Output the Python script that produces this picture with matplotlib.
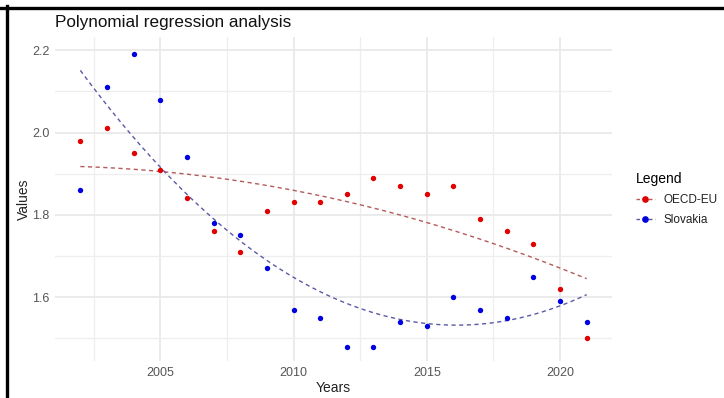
import numpy as np
import matplotlib
matplotlib.use('Agg')
import matplotlib.pyplot as plt
from matplotlib.lines import Line2D

plt.rcParams['font.family'] = ['Liberation Sans', 'DejaVu Sans']

years = list(range(2002, 2022))
oecd_eu = [1.98, 2.01, 1.95, 1.91, 1.84, 1.76, 1.71, 1.81, 1.83, 1.83,
           1.85, 1.89, 1.87, 1.85, 1.87, 1.79, 1.76, 1.73, 1.62, 1.50]
slovakia = [1.86, 2.11, 2.19, 2.08, 1.94, 1.78, 1.75, 1.67, 1.57, 1.55,
            1.48, 1.48, 1.54, 1.53, 1.60, 1.57, 1.55, 1.65, 1.59, 1.54]
series_names = ['OECD-EU', 'Slovakia']

point_colors = ['#e00000', '#0000e0']
fit_colors = ['#b35a5a', '#5a5aa6']

fig = plt.figure(figsize=(7.24, 3.98), dpi=100)
ax = fig.add_axes([55 / 724, 1 - 361 / 398, (612 - 55) / 724, (361 - 37) / 398])

x = np.array(years, dtype=float)
handles = []
for name, vals, pc, fc in zip(series_names, [oecd_eu, slovakia], point_colors, fit_colors):
    y = np.array(vals)
    # quadratic fit, same as lm(y ~ poly(x, 2))
    coef = np.polyfit(x - x.mean(), y, 2)
    xs = np.linspace(x.min(), x.max(), 200)
    ax.plot(xs, np.polyval(coef, xs - x.mean()), color=fc, lw=1.0,
            dashes=(3, 2.5), zorder=2)
    ax.scatter(x, y, s=15, color=pc, zorder=3, linewidths=0)
    handles.append(Line2D([0], [0], color=fc, lw=1.0, dashes=(2.5, 2),
                          marker='o', markersize=3.8, markerfacecolor=pc,
                          markeredgecolor=pc, label=name))

ax.set_xlim(2001.05, 2021.95)
ax.set_ylim(1.445, 2.232)
ax.set_xticks([2005, 2010, 2015, 2020])
ax.set_yticks([1.6, 1.8, 2.0, 2.2])
ax.set_yticklabels(['1.6', '1.8', '2.0', '2.2'])
ax.set_xticks(np.arange(2002.5, 2021.9, 2.5), minor=True)
ax.set_yticks([1.5, 1.7, 1.9, 2.1], minor=True)
ax.grid(which='major', color='#e8e8e8', lw=1.2)
ax.grid(which='minor', color='#eeeeee', lw=0.9)
ax.set_axisbelow(True)
for s in ax.spines.values():
    s.set_visible(False)
ax.tick_params(which='both', length=0)
ax.tick_params(labelsize=9, labelcolor='#555555', pad=4)

ax.set_xlabel('Years', fontsize=10, color='#222222', labelpad=2)
ax.set_ylabel('Values', fontsize=10, color='#222222', labelpad=1)
fig.text(55 / 724, 1 - 22 / 398, 'Polynomial regression analysis',
         fontsize=12.3, color='#111111', va='center', ha='left')

leg = fig.legend(handles=handles, title='Legend', loc='upper left',
                 bbox_to_anchor=(625 / 724, 1 - 161 / 398), frameon=False,
                 fontsize=8.5, title_fontsize=10, handlelength=1.6,
                 handletextpad=0.8, labelspacing=0.7)
leg._legend_box.align = 'left'
for t in leg.get_texts():
    t.set_color('#222222')

# black frame along top and left edge
fig.add_artist(Line2D([0, 1], [1 - 7.5 / 398] * 2, color='black', lw=2.4,
                      transform=fig.transFigure))
fig.add_artist(Line2D([7 / 724] * 2, [0, 1 - 6 / 398], color='black', lw=2.4,
                      transform=fig.transFigure))

fig.savefig('out.png', dpi=100)
